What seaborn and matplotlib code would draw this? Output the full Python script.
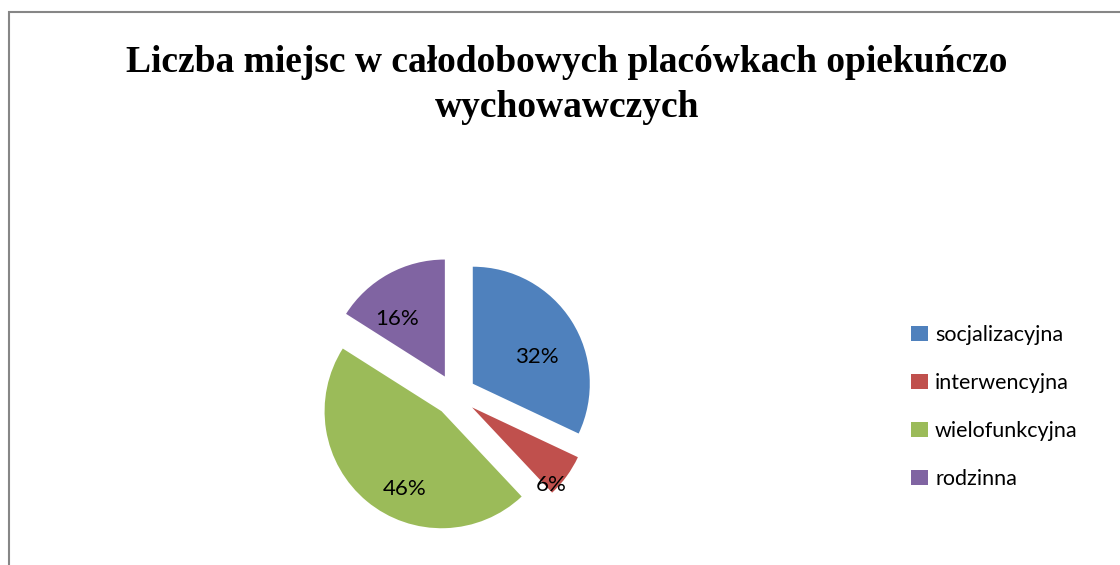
import numpy as np
import matplotlib
matplotlib.use("Agg")
import matplotlib.pyplot as plt
from matplotlib.patches import Rectangle
import seaborn as sns

# ---- data ----
categories = ["socjalizacyjna", "interwencyjna", "wielofunkcyjna", "rodzinna"]
shares = [32, 6, 46, 16]
colors = ["#4F81BD", "#C0504D", "#9BBB59", "#8064A2"]

title = "Liczba miejsc w całodobowych placówkach opiekuńczo\nwychowawczych"

# ---- style ----
sns.set_theme(style="white")
plt.rcParams["font.family"] = ["Lato", "DejaVu Sans"]
plt.rcParams["text.color"] = "black"

fig = plt.figure(figsize=(11.2, 5.65), dpi=100)

# frame of the chart area (left and top edges visible)
fig.add_artist(Rectangle((8.5 / 1120, -0.1), 1.2, 553 / 565 + 0.1,
                         transform=fig.transFigure, fill=False,
                         edgecolor="#868686", lw=1.5))

fig.suptitle(title, x=0.506, y=0.92, fontsize=27, fontweight="bold",
             family="Liberation Serif", color="black", linespacing=1.38)

# pie axes: square, centred where the original pie sits
ax = fig.add_axes([305 / 1120, 20 / 565, 300 / 1120, 300 / 565])
lim = 150 / 117
ax.axis("off")

explode = [0.18] * len(shares)
wedges, texts, autotexts = ax.pie(
    shares, colors=colors, startangle=90, counterclock=False,
    explode=explode, autopct="%1.0f%%", pctdistance=0.6,
    textprops=dict(fontsize=16, color="black"),
    wedgeprops=dict(linewidth=0), frame=False)

# Excel-like "best fit" label placement: distance from slice tip, angle tweak
label_dist = [0.59, 0.95, 0.74, 0.64]
label_turn = [-9.5, -8.6, 14.0, 10.8]
for w, t, d, turn in zip(wedges, autotexts, label_dist, label_turn):
    ang = np.deg2rad((w.theta1 + w.theta2) / 2 + turn)
    cx, cy = w.center
    t.set_position((cx + d * np.cos(ang), cy + d * np.sin(ang)))
    t.set_ha("center")
    t.set_va("center")

ax.set_aspect("equal")
ax.set_xlim(-lim, lim)
ax.set_ylim(-lim, lim)

fig.legend(wedges, categories, loc="center left",
           bbox_to_anchor=(892 / 1120, 1 - 407 / 565),
           frameon=False, fontsize=15.5, handlelength=0.75, handleheight=0.75,
           handletextpad=0.35, labelspacing=1.3)

fig.savefig("out.png", dpi=100)
